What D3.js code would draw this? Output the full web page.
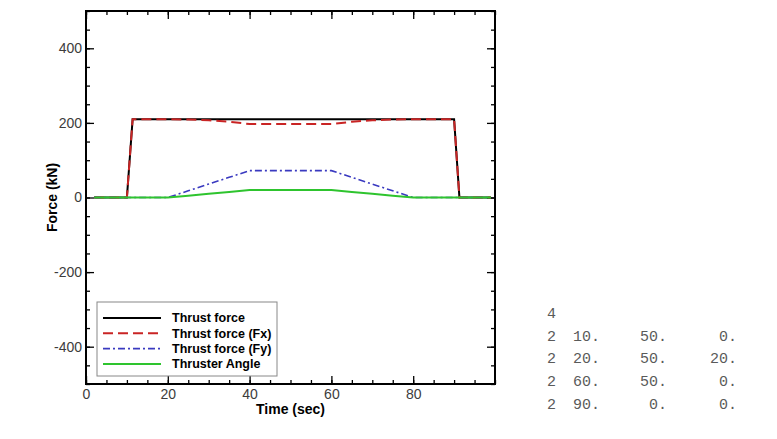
<!DOCTYPE html>
<html>
<head>
<meta charset="utf-8">
<script src="https://cdn.jsdelivr.net/npm/d3@7"></script>
<style>
  body { margin: 0; background: #fff; }
  svg { display: block; }
</style>
</head>
<body>
<svg id="chart"></svg>
<script>
// time samples (sec) and the four series
const time   = [2, 10, 11.4, 20, 25, 30, 35, 40, 60, 65, 70, 75, 80, 90, 91.3, 99];
const thrust = [0, 0, 210, 210, 210, 210, 210, 210, 210, 210, 210, 210, 210, 210, 0, 0];
const fx     = [0, 0, 210, 210, 209, 207, 203, 197, 197, 203, 207, 209, 210, 210, 0, 0];
const fy     = [0, 0, 0, 0, 18, 36, 54, 72, 72, 54, 36, 18, 0, 0, 0, 0];
const angle  = [0, 0, 0, 0, 5, 10, 15, 20, 20, 15, 10, 5, 0, 0, 0, 0];

const seriesNames = ["Thrust force", "Thrust force (Fx)", "Thrust force (Fy)", "Thruster Angle"];
const xTicks = [0, 20, 40, 60, 80];
const yTicks = [-400, -200, 0, 200, 400];

// input deck text shown to the right of the chart
const deckRows = [
    ["4"],
    ["2", "10.", "50.", "0."],
    ["2", "20.", "50.", "20."],
    ["2", "60.", "50.", "0."],
    ["2", "90.", "0.", "0."]
];

const W = 777, H = 439;
const margin = { top: 11, right: 282, bottom: 55, left: 86 };
const width = W - margin.left - margin.right;
const height = H - margin.top - margin.bottom;

const svg = d3.select("#chart").attr("width", W).attr("height", H);
const g = svg.append("g").attr("transform", `translate(${margin.left},${margin.top})`);

const x = d3.scaleLinear().domain([0, 100]).range([0, width]);
const y = d3.scaleLinear().domain([-500, 500]).range([height, 0]);

const styles = [
    { color: "#000000", dash: null, w: 2 },
    { color: "#c92424", dash: "10,5", w: 2 },
    { color: "#3a3ac0", dash: "7,3,2,3", w: 1.6 },
    { color: "#2ec42e", dash: null, w: 2 }
];
const series = [thrust, fx, fy, angle];

// minor + major ticks, pointing inwards on all four sides
function ticks(axis, tr, vals, size, labels) {
    const a = g.append("g").attr("transform", tr)
        .call(axis.tickValues(vals).tickSize(size).tickPadding(5)
            .tickFormat(labels ? (d => String(d)) : ""));
    a.select(".domain").remove();
    a.selectAll("line").attr("stroke", "#000").attr("stroke-width", 1.3);
    a.selectAll("text").attr("fill", "#3c3c3c")
        .style("font-family", "Liberation Sans, Arial, sans-serif").style("font-size", "14px");
    return a;
}
const xMinor = d3.range(0, 101, 5), yMinor = d3.range(-500, 501, 50);

ticks(d3.axisBottom(x), `translate(0,${height})`, xMinor, -4, false);
ticks(d3.axisTop(x), "translate(0,0)", xMinor, -4, false);
ticks(d3.axisLeft(y), "translate(0,0)", yMinor, -4, false);
ticks(d3.axisRight(y), `translate(${width},0)`, yMinor, -4, false);

ticks(d3.axisBottom(x), `translate(0,${height})`, xTicks, -8, true);
ticks(d3.axisTop(x), "translate(0,0)", xTicks, -8, false);
ticks(d3.axisLeft(y), "translate(0,0)", yTicks, -8, true).selectAll("text").attr("x", -4);
ticks(d3.axisRight(y), `translate(${width},0)`, yTicks, -8, false);

// lines
const line = d3.line().x(d => x(d[0])).y(d => y(d[1]));
series.forEach((s, i) => {
    g.append("path")
        .datum(time.map((t, j) => [t, s[j]]))
        .attr("fill", "none")
        .attr("stroke", styles[i].color)
        .attr("stroke-width", styles[i].w)
        .attr("stroke-dasharray", styles[i].dash)
        .attr("d", line);
});

// frame
g.append("rect").attr("width", width).attr("height", height)
    .attr("fill", "none").attr("stroke", "#000").attr("stroke-width", 2);

// axis titles
g.append("text")
    .attr("x", width / 2).attr("y", height + 30)
    .attr("text-anchor", "middle")
    .style("font-family", "Liberation Sans, Arial, sans-serif")
    .style("font-size", "14px").style("font-weight", "bold")
    .text("Time (sec)");

g.append("text")
    .attr("transform", `translate(${-29},${y(0)}) rotate(-90)`)
    .attr("text-anchor", "middle")
    .style("font-family", "Liberation Sans, Arial, sans-serif")
    .style("font-size", "14px").style("font-weight", "bold")
    .text("Force (kN)");

// legend
const legend = g.append("g").attr("transform", "translate(11,291)");
legend.append("rect").attr("width", 180).attr("height", 74)
    .attr("fill", "#fff").attr("stroke", "#888").attr("stroke-width", 1);
seriesNames.forEach((name, i) => {
    const row = legend.append("g").attr("transform", `translate(0,${16 + i * 15.3})`);
    row.append("line").attr("x1", 6).attr("x2", 64)
        .attr("stroke", styles[i].color)
        .attr("stroke-width", styles[i].w)
        .attr("stroke-dasharray", styles[i].dash);
    row.append("text").attr("x", 75).attr("dy", "0.35em")
        .style("font-family", "Liberation Sans, Arial, sans-serif")
        .style("font-size", "12.5px").style("font-weight", "bold")
        .text(name);
});

// deck text, right aligned columns
const colEnds = [556, 600, 667, 737];
const deck = svg.append("g")
    .style("font-family", "Liberation Mono, Courier New, monospace")
    .style("font-size", "15px").attr("fill", "#5a5a5a");
deckRows.forEach((row, r) => {
    row.forEach((cell, c) => {
        deck.append("text")
            .attr("x", colEnds[c]).attr("y", 318 + r * 22.7)
            .attr("text-anchor", "end")
            .text(cell);
    });
});
</script>
</body>
</html>
